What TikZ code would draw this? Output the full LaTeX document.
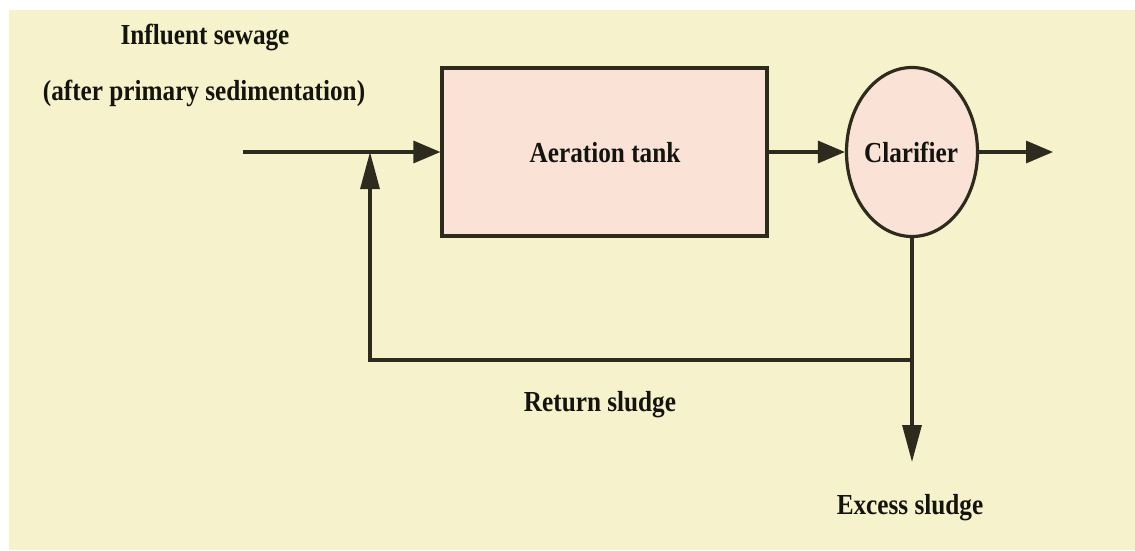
\documentclass[tikz,border=0pt]{standalone}
\usepackage{fontspec}
\setmainfont{Liberation Serif}[FakeStretch=0.87]
\usetikzlibrary{arrows.meta,shapes.geometric}
\definecolor{bgyellow}{RGB}{246,242,204}
\definecolor{boxpink}{RGB}{250,227,214}
\definecolor{linedark}{RGB}{45,42,30}
\definecolor{textdark}{RGB}{20,20,15}
\tikzset{
  lbl/.style={font=\bfseries\fontsize{29}{34}\selectfont, text=textdark, inner sep=0pt, anchor=base},
  boxshape/.style={draw=linedark, line width=3.2pt, fill=boxpink, inner sep=0pt},
  harrow/.style={draw=linedark, line width=3.2pt, -{Triangle[length=27pt,width=22pt]}},
  varrow/.style={draw=linedark, line width=3.2pt, -{Triangle[length=37pt,width=19pt]}}
}
\begin{document}
\begin{tikzpicture}[x=1pt,y=-1pt]
\useasboundingbox (0,0) rectangle (1135,550);
\fill[white] (0,0) rectangle (1135,550);
\fill[bgyellow] (9,10) rectangle (1135,550);
% nodes
\node[boxshape, rectangle, minimum width=325pt, minimum height=168pt] (tank) at (604.5,152) {};
\node[lbl] (tanklbl) at (605,162) {Aeration tank};
\node[boxshape, ellipse, minimum width=131pt, minimum height=169pt] (clar) at (912,152) {};
\node[lbl] (clarlbl) at (911,162) {Clarifier};
\node[lbl] (inf1) at (205,44) {Influent sewage};
\node[lbl] (inf2) at (204,100) {(after primary sedimentation)};
\node[lbl] (ret) at (600,411) {Return sludge};
\node[lbl] (exc) at (910,514) {Excess sludge};
% coordinates
\coordinate (in) at (243,152);
\coordinate (j) at (370,152);
\coordinate (out) at (1053,152);
\coordinate (r1) at (912,360);
\coordinate (r2) at (370,360);
\coordinate (ex) at (912,462);
% connectors
\draw[harrow] (in) -- (tank.west);
\draw[harrow] (tank.east) -- (clar.west);
\draw[harrow] (clar.east) -- (out);
\draw[varrow, line join=miter] (clar.south) -- (r1) -- (r2) -- (j);
\draw[varrow] (r1) -- (ex);
\end{tikzpicture}
\end{document}
